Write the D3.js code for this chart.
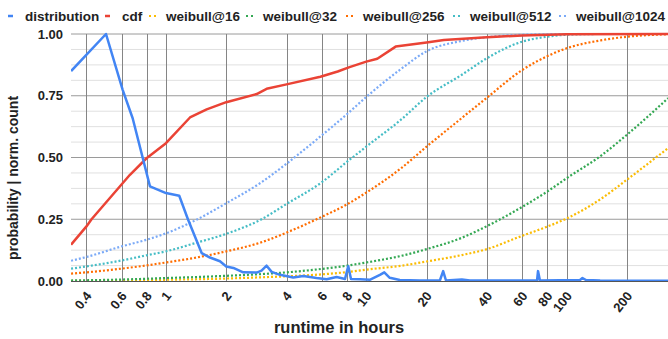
<!DOCTYPE html>
<html>
<head>
<meta charset="utf-8">
<script src="https://cdn.jsdelivr.net/npm/d3@7"></script>
<style>
  body { margin: 0; background: #fff; }
  svg { display: block; font-family: "Liberation Sans", Arial, sans-serif; }
  .tick-label { font-size: 13px; font-weight: bold; fill: #222; }
</style>
</head>
<body>
<div id="chart"></div>
<script>
// x ticks on the log axis (hours)
let xTicks = [0.4, 0.6, 0.8, 1, 2, 4, 6, 8, 10, 20, 40, 60, 80, 100, 200];
let yTicks = [0, 0.25, 0.5, 0.75, 1];
let yMinor = [0.0625, 0.125, 0.1875, 0.3125, 0.375, 0.4375, 0.5625, 0.625, 0.6875, 0.8125, 0.875, 0.9375];

// normalised histogram of runtimes
let distX = [0.336, 0.502, 0.608, 0.682, 0.832, 1.0, 1.165, 1.29, 1.507, 1.658, 1.86, 2.0, 2.17, 2.43,
             2.84, 3.0, 3.18, 3.37, 3.71, 4.32, 4.85, 5.65, 6.34, 7.11, 7.83, 8.13, 8.39, 9.3, 10.4,
             11.7, 12.3, 13.1, 14.7, 18.5, 23.3, 24.2, 25.0, 30, 32.9, 46.5, 71.2, 72, 73.6, 116.7,
             120, 125, 147, 232, 321];
let distY = [0.85, 1.0, 0.774, 0.659, 0.383, 0.356, 0.345, 0.248, 0.113, 0.095, 0.08, 0.059, 0.053, 0.035,
             0.034, 0.042, 0.062, 0.037, 0.025, 0.014, 0.02, 0.012, 0.007, 0.016, 0.008, 0.06, 0.008, 0.007, 0.005,
             0.025, 0.035, 0.013, 0.004, 0.002, 0.002, 0.04, 0.002, 0.006, 0.002, 0.002, 0.002, 0.04, 0.002, 0.004,
             0.012, 0.004, 0.002, 0.001, 0.001];

// empirical cdf
let cdfX = [0.336, 0.4, 0.425, 0.661, 0.8, 1.0, 1.318, 1.597, 2.0, 2.837, 3.18, 4.0, 5.9, 7.2, 8.25, 10,
            11.35, 14.02, 20, 24.4, 40, 60, 100, 321];
let cdfY = [0.147, 0.22, 0.25, 0.43, 0.497, 0.558, 0.662, 0.695, 0.724, 0.757, 0.778, 0.796, 0.827, 0.848, 0.866, 0.888,
            0.9, 0.949, 0.966, 0.976, 0.987, 0.994, 0.999, 1.0];

// fitted weibull cdfs, read at shared x positions
let weibullX = [0.336, 0.4, 0.6, 0.8, 1, 1.42, 2, 3, 4, 6, 8, 10, 15, 20, 30, 40, 60, 80, 100, 150, 200, 321];
let weibull16 = [0.001, 0.001, 0.002, 0.003, 0.005, 0.007, 0.01, 0.015, 0.019, 0.027, 0.036, 0.046, 0.062, 0.079,
                 0.105, 0.129, 0.183, 0.22, 0.253, 0.335, 0.41, 0.538];
let weibull32 = [0.002, 0.003, 0.006, 0.009, 0.012, 0.016, 0.021, 0.028, 0.035, 0.049, 0.062, 0.075, 0.102, 0.129,
                 0.175, 0.222, 0.3, 0.362, 0.416, 0.51, 0.592, 0.74];
let weibull256 = [0.03, 0.035, 0.05, 0.063, 0.075, 0.095, 0.12, 0.157, 0.196, 0.26, 0.31, 0.358, 0.458, 0.544,
                  0.66, 0.742, 0.854, 0.91, 0.942, 0.975, 0.989, 0.999];
let weibull512 = [0.05, 0.059, 0.083, 0.104, 0.12, 0.155, 0.191, 0.25, 0.312, 0.4, 0.482, 0.544, 0.655, 0.745,
                  0.835, 0.902, 0.969, 0.989, 0.997, 1.0, 1.0, 1.0];
let weibull1024 = [0.082, 0.097, 0.14, 0.167, 0.193, 0.248, 0.315, 0.4, 0.475, 0.59, 0.675, 0.745, 0.86, 0.93,
                   0.972, 0.987, 0.997, 0.999, 1.0, 1.0, 1.0, 1.0];

let seriesNames = ["distribution", "cdf", "weibull@16", "weibull@32", "weibull@256", "weibull@512", "weibull@1024"];
let colors = ["#4285f4", "#ea4335", "#fbbc04", "#34a853", "#ff6d01", "#46bdc6", "#7baaf7"];

let width = 668, height = 339;
let plotLeft = 71, plotRight = 668, plotTop = 34, plotBottom = 281;

let svg = d3.select("#chart").append("svg")
    .attr("width", width)
    .attr("height", height);

let x = d3.scaleLog()
    .domain([0.3357, 320.8])
    .range([plotLeft, plotRight]);
let y = d3.scaleLinear()
    .domain([0, 1])
    .range([plotBottom, plotTop]);

// minor horizontal grid
svg.selectAll(".minor")
    .data(yMinor)
    .enter().append("line")
    .attr("class", "minor")
    .attr("x1", plotLeft).attr("x2", plotRight)
    .attr("y1", d => y(d)).attr("y2", d => y(d))
    .attr("stroke", "#e0e0e0");

// major horizontal grid
svg.selectAll(".major")
    .data(yTicks.filter(d => d > 0))
    .enter().append("line")
    .attr("class", "major")
    .attr("x1", plotLeft).attr("x2", plotRight)
    .attr("y1", d => y(d)).attr("y2", d => y(d))
    .attr("stroke", "#9a9a9a");

// vertical grid
svg.selectAll(".vgrid")
    .data(xTicks)
    .enter().append("line")
    .attr("class", "vgrid")
    .attr("x1", d => Math.round(x(d)) + 0.5).attr("x2", d => Math.round(x(d)) + 0.5)
    .attr("y1", plotTop).attr("y2", plotBottom)
    .attr("stroke", "#858585");

// y labels
svg.selectAll(".ylab")
    .data(yTicks)
    .enter().append("text")
    .attr("class", "tick-label")
    .attr("x", 63)
    .attr("y", d => y(d))
    .attr("dy", "0.36em")
    .attr("text-anchor", "end")
    .text(d => d3.format(".2f")(d));

// x labels, slanted
svg.selectAll(".xlab")
    .data(xTicks)
    .enter().append("text")
    .attr("class", "tick-label")
    .attr("text-anchor", "end")
    .attr("transform", d => `translate(${x(d) + 6},${plotBottom + 15}) rotate(-52)`)
    .text(d => d);

svg.append("defs").append("clipPath").attr("id", "plot")
    .append("rect")
    .attr("x", plotLeft).attr("y", plotTop - 4)
    .attr("width", plotRight - plotLeft).attr("height", plotBottom - plotTop + 8);

let line = d3.line()
    .x(d => x(d[0]))
    .y(d => y(d[1]));
let smooth = d3.line()
    .x(d => x(d[0]))
    .y(d => y(d[1]))
    .curve(d3.curveMonotoneX);

let plot = svg.append("g").attr("clip-path", "url(#plot)");

let weibulls = [weibull16, weibull32, weibull256, weibull512, weibull1024];
// draw the dotted weibull fits
weibulls.forEach((ws, i) => {
    plot.append("path")
        .datum(weibullX.map((v, j) => [v, ws[j]]))
        .attr("d", smooth)
        .attr("fill", "none")
        .attr("stroke", colors[i + 2])
        .attr("stroke-width", 2.2)
        .attr("stroke-dasharray", "2,2");
});

// x axis baseline
svg.append("line")
    .attr("x1", plotLeft).attr("x2", plotRight)
    .attr("y1", plotBottom + 0.5).attr("y2", plotBottom + 0.5)
    .attr("stroke", "#555");

plot.append("path")
    .datum(cdfX.map((v, j) => [v, cdfY[j]]))
    .attr("d", line)
    .attr("fill", "none")
    .attr("stroke", colors[1])
    .attr("stroke-width", 2.5)
    .attr("stroke-linejoin", "round");

plot.append("path")
    .datum(distX.map((v, j) => [v, distY[j]]))
    .attr("d", line)
    .attr("fill", "none")
    .attr("stroke", colors[0])
    .attr("stroke-width", 2.5)
    .attr("stroke-linejoin", "round");

// legend
let legendX = [25, 122, 166, 263, 363, 470, 576];
let legend = svg.selectAll(".legend")
    .data(seriesNames)
    .enter().append("g")
    .attr("class", "legend")
    .attr("transform", (d, i) => `translate(${legendX[i]},16)`);

legend.append("line")
    .attr("x1", -17).attr("x2", (d, i) => i < 2 ? -12 : -10)
    .attr("y1", 0).attr("y2", 0)
    .attr("stroke", (d, i) => colors[i])
    .attr("stroke-width", (d, i) => i < 2 ? 2.5 : 2.2)
    .attr("stroke-dasharray", (d, i) => i < 2 ? null : "2,3");

legend.append("text")
    .attr("y", 0)
    .attr("dy", "0.36em")
    .attr("font-size", "13.5px")
    .attr("font-weight", "bold")
    .attr("fill", "#222")
    .text(d => d);

// axis titles
svg.append("text")
    .attr("transform", `translate(18,178) rotate(-90)`)
    .attr("text-anchor", "middle")
    .attr("font-size", "14px")
    .attr("font-weight", "bold")
    .attr("fill", "#222")
    .text("probability | norm. count");

svg.append("text")
    .attr("x", 339)
    .attr("y", 333)
    .attr("text-anchor", "middle")
    .attr("font-size", "16.5px")
    .attr("font-weight", "bold")
    .attr("fill", "#222")
    .text("runtime in hours");
</script>
</body>
</html>
